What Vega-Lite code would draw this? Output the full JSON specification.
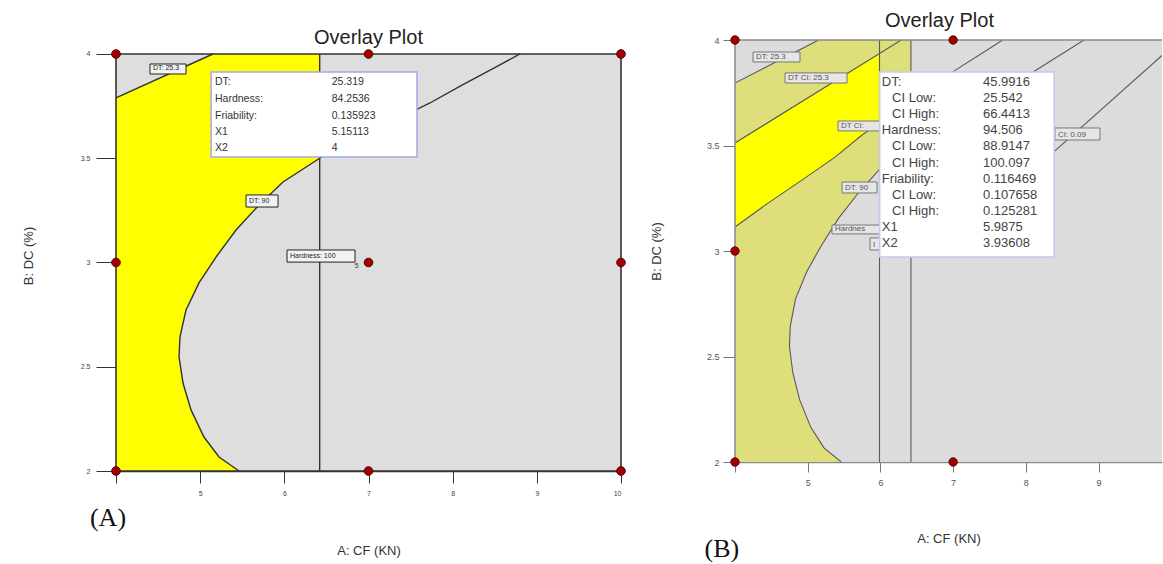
{
"$schema":"https://vega.github.io/schema/vega-lite/v6.json",
"padding":{"left":22,"top":10,"right":0,"bottom":0},
"background":"white",
"spacing":22,
"config":{"view":{"stroke":null},"font":"Liberation Sans","axis":{"grid":false,"labelFont":"Liberation Sans","titleFont":"Liberation Sans","titleFontWeight":"normal"}},
"datasets":{
"region":[
{"y":2.0,"xl":4,"xr":5.461},{"y":2.067,"xl":4,"xr":5.224},{"y":2.163,"xl":4,"xr":5.045},{"y":2.293,"xl":4,"xr":4.891},
{"y":2.422,"xl":4,"xr":4.796},{"y":2.547,"xl":4,"xr":4.749},{"y":2.643,"xl":4,"xr":4.760},{"y":2.772,"xl":4,"xr":4.832},
{"y":2.902,"xl":4,"xr":4.986},{"y":3.026,"xl":4,"xr":5.188},{"y":3.156,"xl":4,"xr":5.426},{"y":3.276,"xl":4,"xr":5.699},
{"y":3.386,"xl":4,"xr":5.984},{"y":3.50,"xl":4,"xr":6.42},{"y":3.79,"xl":4,"xr":6.42},{"y":4.0,"xl":5.151,"xr":6.42}
],
"bright":[
{"y":3.114,"xl":4,"xr":4},{"y":3.227,"xl":4,"xr":4.454},{"y":3.336,"xl":4,"xr":4.92},{"y":3.445,"xl":4,"xr":5.376},
{"y":3.512,"xl":4,"xr":5.613},{"y":3.55,"xl":4.178,"xr":5.747},{"y":3.605,"xl":4.436,"xr":5.9875},{"y":3.936,"xl":5.9875,"xr":5.9875}
],
"linesA":[
{"id":"dt25","o":0,"x":4,"y":3.79},{"id":"dt25","o":1,"x":5.151,"y":4.0},
{"id":"dt90","o":0,"x":5.461,"y":2.0},{"id":"dt90","o":1,"x":5.224,"y":2.067},{"id":"dt90","o":2,"x":5.045,"y":2.163},{"id":"dt90","o":3,"x":4.891,"y":2.293},
{"id":"dt90","o":4,"x":4.796,"y":2.422},{"id":"dt90","o":5,"x":4.749,"y":2.547},{"id":"dt90","o":6,"x":4.760,"y":2.643},{"id":"dt90","o":7,"x":4.832,"y":2.772},
{"id":"dt90","o":8,"x":4.986,"y":2.902},{"id":"dt90","o":9,"x":5.188,"y":3.026},{"id":"dt90","o":10,"x":5.426,"y":3.156},{"id":"dt90","o":11,"x":5.699,"y":3.276},
{"id":"dt90","o":12,"x":5.984,"y":3.386},{"id":"dt90","o":13,"x":6.42,"y":3.50},{"id":"dt90","o":14,"x":6.6,"y":3.54},{"id":"dt90","o":15,"x":7.0,"y":3.63},
{"id":"dt90","o":16,"x":7.4,"y":3.70},{"id":"dt90","o":17,"x":7.73,"y":3.765},{"id":"dt90","o":18,"x":8.1,"y":3.848},{"id":"dt90","o":19,"x":8.5,"y":3.935},{"id":"dt90","o":20,"x":8.8,"y":4.0},
{"id":"h100","o":0,"x":6.42,"y":2.0},{"id":"h100","o":1,"x":6.42,"y":4.0}
],
"linesB":[
{"id":"dt25","o":0,"x":4,"y":3.796},{"id":"dt25","o":1,"x":5.151,"y":4.0},
{"id":"dtci25","o":0,"x":4,"y":3.512},{"id":"dtci25","o":1,"x":5.9875,"y":3.936},{"id":"dtci25","o":2,"x":6.287,"y":4.0},
{"id":"dtci90","o":0,"x":4,"y":3.114},{"id":"dtci90","o":1,"x":4.454,"y":3.227},{"id":"dtci90","o":2,"x":4.92,"y":3.336},{"id":"dtci90","o":3,"x":5.376,"y":3.445},
{"id":"dtci90","o":4,"x":5.747,"y":3.55},{"id":"dtci90","o":5,"x":5.9875,"y":3.605},{"id":"dtci90","o":6,"x":6.5,"y":3.73},{"id":"dtci90","o":7,"x":7.0,"y":3.85},{"id":"dtci90","o":8,"x":7.5,"y":3.96},{"id":"dtci90","o":9,"x":7.68,"y":4.0},
{"id":"dt90","o":0,"x":5.461,"y":2.0},{"id":"dt90","o":1,"x":5.224,"y":2.067},{"id":"dt90","o":2,"x":5.045,"y":2.163},{"id":"dt90","o":3,"x":4.891,"y":2.293},
{"id":"dt90","o":4,"x":4.796,"y":2.422},{"id":"dt90","o":5,"x":4.749,"y":2.547},{"id":"dt90","o":6,"x":4.760,"y":2.643},{"id":"dt90","o":7,"x":4.832,"y":2.772},
{"id":"dt90","o":8,"x":4.986,"y":2.902},{"id":"dt90","o":9,"x":5.188,"y":3.026},{"id":"dt90","o":10,"x":5.426,"y":3.156},{"id":"dt90","o":11,"x":5.699,"y":3.276},
{"id":"dt90","o":12,"x":5.984,"y":3.386},{"id":"dt90","o":13,"x":6.42,"y":3.50},{"id":"dt90","o":14,"x":6.6,"y":3.54},{"id":"dt90","o":15,"x":7.0,"y":3.63},
{"id":"dt90","o":16,"x":7.4,"y":3.70},{"id":"dt90","o":17,"x":7.73,"y":3.765},{"id":"dt90","o":18,"x":8.1,"y":3.848},{"id":"dt90","o":19,"x":8.5,"y":3.935},{"id":"dt90","o":20,"x":8.8,"y":4.0},
{"id":"h100","o":0,"x":6.42,"y":2.0},{"id":"h100","o":1,"x":6.42,"y":4.0},
{"id":"hci","o":0,"x":5.9875,"y":2.0},{"id":"hci","o":1,"x":5.9875,"y":4.0},
{"id":"fci","o":0,"x":8.3,"y":3.444},{"id":"fci","o":1,"x":9.873,"y":3.927}
],
"pts":[
{"x":4,"y":2},{"x":4,"y":3},{"x":4,"y":4},{"x":7,"y":2},{"x":7,"y":3},{"x":7,"y":4},{"x":10,"y":2},{"x":10,"y":3},{"x":10,"y":4}
],
"labA":[
{"x":4.404,"x2":4.832,"y":3.904,"y2":3.952,"t":"DT: 25.3"},
{"x":5.545,"x2":5.925,"y":3.266,"y2":3.324,"t":"DT: 90"},
{"x":6.032,"x2":6.840,"y":3.002,"y2":3.060,"t":"Hardness: 100"}
],
"labB":[
{"x":4.248,"x2":4.894,"y":3.896,"y2":3.943,"t":"DT: 25.3"},
{"x":4.688,"x2":5.541,"y":3.796,"y2":3.844,"t":"DT CI: 25.3"},
{"x":5.417,"x2":6.1,"y":3.569,"y2":3.616,"t":"DT CI:"},
{"x":5.472,"x2":5.953,"y":3.275,"y2":3.327,"t":"DT: 90"},
{"x":5.334,"x2":6.3,"y":3.081,"y2":3.123,"t":"Hardnes"},
{"x":5.857,"x2":6.3,"y":3.005,"y2":3.062,"t":"I"},
{"x":8.40,"x2":9.02,"y":3.526,"y2":3.583,"t":"CI: 0.09"}
],
"tipA":[
{"k":"DT:","v":"25.319","y":3.866},{"k":"Hardness:","v":"84.2536","y":3.784},{"k":"Friability:","v":"0.135923","y":3.703},
{"k":"X1","v":"5.15113","y":3.626},{"k":"X2","v":"4","y":3.549}
],
"tipB":[
{"k":"DT:","v":"45.9916","y":3.801,"sub":0},{"k":"CI Low:","v":"25.542","y":3.725,"sub":1},{"k":"CI High:","v":"66.4413","y":3.648,"sub":1},
{"k":"Hardness:","v":"94.506","y":3.572,"sub":0},{"k":"CI Low:","v":"88.9147","y":3.496,"sub":1},{"k":"CI High:","v":"100.097","y":3.419,"sub":1},
{"k":"Friability:","v":"0.116469","y":3.343,"sub":0},{"k":"CI Low:","v":"0.107658","y":3.267,"sub":1},{"k":"CI High:","v":"0.125281","y":3.191,"sub":1},
{"k":"X1","v":"5.9875","y":3.114,"sub":0},{"k":"X2","v":"3.93608","y":3.038,"sub":0}
]
},
"hconcat":[
{
"width":505,"height":431,
"title":{"text":"Overlay Plot","fontSize":20,"fontWeight":"normal","font":"Liberation Sans","offset":-8,"color":"#222"},
"layer":[
{"data":{"values":[{"x":4,"x2":10,"y":2,"y2":4}]},"mark":{"type":"rect","fill":"#dedede"},
 "encoding":{
  "x":{"field":"x","type":"quantitative","scale":{"domain":[4,10],"nice":false,"zero":false},
   "axis":{"title":"A: CF (KN)","values":[4,5,6,7,8,9,10],"format":"~g","labelExpr":"datum.value == 4 ? '' : datum.label","labelFontSize":7,"labelColor":"#444","tickSize":12,"tickColor":"#333","domainColor":"#333","domainWidth":1.5,"labelPadding":6,"titleFontSize":13,"titleColor":"#333","titlePadding":48}},
  "x2":{"field":"x2"},
  "y":{"field":"y","type":"quantitative","scale":{"domain":[2,4.0671],"nice":false,"zero":false},
   "axis":{"title":"B: DC (%)","values":[2,2.5,3,3.5,4],"format":"~g","labelFontSize":7,"labelColor":"#444","tickSize":20,"tickColor":"#333","domain":false,"labelPadding":6,"titleFontSize":13,"titleColor":"#333","titlePadding":45}},
  "y2":{"field":"y2"}}},
{"data":{"name":"region"},"mark":{"type":"area","orient":"horizontal","color":"#ffff00"},
 "encoding":{"y":{"field":"y","type":"quantitative"},"x":{"field":"xl","type":"quantitative"},"x2":{"field":"xr"}}},
{"data":{"name":"linesA"},"mark":{"type":"line","color":"#333","strokeWidth":1.4},
 "encoding":{"x":{"field":"x","type":"quantitative"},"y":{"field":"y","type":"quantitative"},"detail":{"field":"id"},"order":{"field":"o"}}},
{"data":{"name":"labA"},"mark":{"type":"rect","fill":"#f2f2f2","stroke":"#222","strokeWidth":1},
 "encoding":{"x":{"field":"x","type":"quantitative"},"x2":{"field":"x2"},"y":{"field":"y","type":"quantitative"},"y2":{"field":"y2"}}},
{"data":{"name":"labA"},"mark":{"type":"text","align":"left","baseline":"middle","dx":3,"dy":-6,"fontSize":7,"color":"#222"},
 "encoding":{"x":{"field":"x","type":"quantitative"},"y":{"field":"y","type":"quantitative"},"text":{"field":"t"}}},
{"data":{"values":[{"x":4,"x2":10,"y":2,"y2":4}]},"mark":{"type":"rect","filled":false,"stroke":"#333","strokeWidth":1.6},
 "encoding":{"x":{"field":"x","type":"quantitative"},"x2":{"field":"x2"},"y":{"field":"y","type":"quantitative"},"y2":{"field":"y2"}}},
{"data":{"name":"pts"},"mark":{"type":"circle","size":75,"color":"#a00000","opacity":1,"stroke":"#600000","strokeWidth":1},
 "encoding":{"x":{"field":"x","type":"quantitative"},"y":{"field":"y","type":"quantitative"}}},
{"data":{"values":[{"x":6.86,"y":2.985,"t":"5"}]},"mark":{"type":"text","fontSize":7,"color":"#333"},
 "encoding":{"x":{"field":"x","type":"quantitative"},"y":{"field":"y","type":"quantitative"},"text":{"field":"t"}}},
{"data":{"values":[{"x":5.13,"x2":7.576,"y":3.506,"y2":3.914}]},"mark":{"type":"rect","fill":"white","stroke":"#a8a8e6","strokeWidth":1.5},
 "encoding":{"x":{"field":"x","type":"quantitative"},"x2":{"field":"x2"},"y":{"field":"y","type":"quantitative"},"y2":{"field":"y2"}}},
{"data":{"name":"tipA"},"mark":{"type":"text","align":"left","baseline":"middle","fontSize":10.5,"color":"#333"},
 "encoding":{"x":{"datum":5.176,"type":"quantitative"},"y":{"field":"y","type":"quantitative"},"text":{"field":"k"}}},
{"data":{"name":"tipA"},"mark":{"type":"text","align":"left","baseline":"middle","fontSize":10.5,"color":"#333"},
 "encoding":{"x":{"datum":6.563,"type":"quantitative"},"y":{"field":"y","type":"quantitative"},"text":{"field":"v"}}},
{"data":{"values":[{"x":3.905,"y":1.775,"t":"(A)"}]},"mark":{"type":"text","fontSize":26,"font":"Liberation Serif","color":"#111","baseline":"middle"},
 "encoding":{"x":{"field":"x","type":"quantitative"},"y":{"field":"y","type":"quantitative"},"text":{"field":"t"}}}
]
},
{
"width":427,"height":422,
"title":{"text":"Overlay Plot","fontSize":20,"fontWeight":"normal","font":"Liberation Sans","offset":3,"dx":-9,"color":"#222"},
"layer":[
{"data":{"values":[{"x":4,"x2":9.873,"y":2,"y2":4}]},"mark":{"type":"rect","fill":"#dcdcdc"},
 "encoding":{
  "x":{"field":"x","type":"quantitative","scale":{"domain":[4,9.873],"nice":false,"zero":false},
   "axis":{"title":"A: CF (KN)","values":[4,5,6,7,8,9],"format":"~g","labelExpr":"datum.value == 4 ? '' : datum.label","labelFontSize":9,"labelColor":"#555","tickSize":10,"tickColor":"#777","domainColor":"#888","domainWidth":1.5,"labelPadding":6,"titleFontSize":13,"titleColor":"#333","titlePadding":45}},
  "x2":{"field":"x2"},
  "y":{"field":"y","type":"quantitative","scale":{"domain":[2,4],"nice":false,"zero":false},
   "axis":{"title":"B: DC (%)","values":[2,2.5,3,3.5,4],"format":"~g","labelFontSize":9,"labelColor":"#555","tickSize":12,"tickColor":"#777","domain":false,"labelPadding":4,"titleFontSize":13,"titleColor":"#333","titlePadding":43}},
  "y2":{"field":"y2"}}},
{"data":{"name":"region"},"mark":{"type":"area","orient":"horizontal","color":"#dede7a"},
 "encoding":{"y":{"field":"y","type":"quantitative"},"x":{"field":"xl","type":"quantitative"},"x2":{"field":"xr"}}},
{"data":{"name":"bright"},"mark":{"type":"area","orient":"horizontal","color":"#ffff00"},
 "encoding":{"y":{"field":"y","type":"quantitative"},"x":{"field":"xl","type":"quantitative"},"x2":{"field":"xr"}}},
{"data":{"name":"linesB"},"mark":{"type":"line","color":"#5a5a5a","strokeWidth":1.1,"clip":true},
 "encoding":{"x":{"field":"x","type":"quantitative"},"y":{"field":"y","type":"quantitative"},"detail":{"field":"id"},"order":{"field":"o"}}},
{"data":{"name":"labB"},"mark":{"type":"rect","fill":"#e6e6e6","stroke":"#777","strokeWidth":1},
 "encoding":{"x":{"field":"x","type":"quantitative"},"x2":{"field":"x2"},"y":{"field":"y","type":"quantitative"},"y2":{"field":"y2"}}},
{"data":{"name":"labB"},"mark":{"type":"text","align":"left","baseline":"middle","dx":3,"dy":-5,"fontSize":8,"color":"#555"},
 "encoding":{"x":{"field":"x","type":"quantitative"},"y":{"field":"y","type":"quantitative"},"text":{"field":"t"}}},
{"data":{"values":[{"x":4,"x2":9.873,"y":4,"y2":4},{"x":4,"x2":4,"y":2,"y2":4}]},"mark":{"type":"rule","color":"#888","strokeWidth":1.5},
 "encoding":{"x":{"field":"x","type":"quantitative"},"x2":{"field":"x2"},"y":{"field":"y","type":"quantitative"},"y2":{"field":"y2"}}},
{"data":{"name":"pts"},"transform":[{"filter":"datum.x < 9.9"}],"mark":{"type":"circle","size":70,"color":"#a00000","opacity":1,"stroke":"#600000","strokeWidth":1},
 "encoding":{"x":{"field":"x","type":"quantitative"},"y":{"field":"y","type":"quantitative"}}},
{"data":{"values":[{"x":5.99,"x2":8.39,"y":2.972,"y2":3.848}]},"mark":{"type":"rect","fill":"white","stroke":"#c8c8f0","strokeWidth":1.5},
 "encoding":{"x":{"field":"x","type":"quantitative"},"x2":{"field":"x2"},"y":{"field":"y","type":"quantitative"},"y2":{"field":"y2"}}},
{"data":{"name":"tipB"},"transform":[{"filter":"datum.sub == 0"}],"mark":{"type":"text","align":"left","baseline":"middle","fontSize":13,"color":"#444"},
 "encoding":{"x":{"datum":6.02,"type":"quantitative"},"y":{"field":"y","type":"quantitative"},"text":{"field":"k"}}},
{"data":{"name":"tipB"},"transform":[{"filter":"datum.sub == 1"}],"mark":{"type":"text","align":"left","baseline":"middle","fontSize":13,"color":"#444"},
 "encoding":{"x":{"datum":6.16,"type":"quantitative"},"y":{"field":"y","type":"quantitative"},"text":{"field":"k"}}},
{"data":{"name":"tipB"},"mark":{"type":"text","align":"left","baseline":"middle","fontSize":13,"color":"#444"},
 "encoding":{"x":{"datum":7.41,"type":"quantitative"},"y":{"field":"y","type":"quantitative"},"text":{"field":"v"}}},
{"data":{"values":[{"x":3.82,"y":1.59,"t":"(B)"}]},"mark":{"type":"text","fontSize":26,"font":"Liberation Serif","color":"#111","baseline":"middle"},
 "encoding":{"x":{"field":"x","type":"quantitative"},"y":{"field":"y","type":"quantitative"},"text":{"field":"t"}}}
]
}
]
}
